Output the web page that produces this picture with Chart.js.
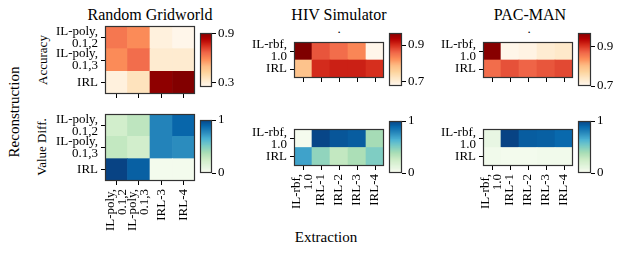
<!DOCTYPE html>
<html>
<head>
<meta charset="utf-8">
<script src="https://cdn.jsdelivr.net/npm/chart.js@4.4.1/dist/chart.umd.min.js"></script>
<style>
body { margin: 0; background: #fff; }
#fig { position: relative; width: 623px; height: 254px; overflow: hidden; font-family: "Liberation Serif", serif; color: #000; }
#fig canvas { position: absolute; left: 0; top: 0; }
.t { position: absolute; white-space: nowrap; transform: translate(-50%, -50%); }
.r { transform: translate(-50%, -50%) rotate(-90deg); }
</style>
</head>
<body>
<div id="fig">
    <div class="t" style="left:150px;top:15px;font-size:16px">Random Gridworld</div>
    <div class="t" style="left:339px;top:15px;font-size:16px">HIV Simulator</div>
    <div class="t" style="left:530px;top:15px;font-size:16px">PAC-MAN</div>
    <div class="t" style="left:339px;top:29px;font-size:13px">.</div>
    <div class="t" style="left:529px;top:29px;font-size:13px">.</div>
    <div class="t r" style="left:43px;top:60px;font-size:13px">Accuracy</div>
    <div class="t r" style="left:42px;top:147px;font-size:13px">Value Diff.</div>
    <div class="t r" style="left:14px;top:112px;font-size:15px">Reconstruction</div>
    <div class="t" style="left:326px;top:237px;font-size:15px">Extraction</div>
</div>
<script>
const rgRows = [["IL-poly,", "0.1,2"], ["IL-poly,", "0.1,3"], "IRL"]
const rgCols = [["IL-poly,", "0.1,2"], ["IL-poly,", "0.1,3"], "IRL-3", "IRL-4"]
const envRows = [["IL-rbf,", "1.0"], "IRL"]
const envCols = [["IL-rbf,", "1.0"], "IRL-1", "IRL-2", "IRL-3", "IRL-4"]

const rgAccuracy = [[0.62, 0.58, 0.28, 0.25], [0.58, 0.64, 0.31, 0.31], [0.28, 0.35, 0.88, 0.90]]
const rgValueDiff = [[0.21, 0.30, 0.78, 0.88], [0.28, 0.21, 0.78, 0.75], [0.99, 0.90, 0.02, 0.02]]
const hivAccuracy = [[0.965, 0.868, 0.85, 0.828, 0.68], [0.774, 0.897, 0.905, 0.905, 0.894]]
const hivValueDiff = [[0.01, 0.98, 0.93, 0.91, 0.38], [0.68, 0.44, 0.28, 0.36, 0.49]]
const pacAccuracy = [[0.963, 0.703, 0.708, 0.724, 0.732], [0.861, 0.88, 0.868, 0.877, 0.885]]
const pacValueDiff = [[0.08, 0.99, 0.91, 0.90, 0.87], [0.03, 0.02, 0.02, 0.03, 0.03]]

const rgAccRange = [0.245, 0.905]
const hivAccRange = [0.678, 0.965]
const pacAccRange = [0.7, 0.968]
const diffRange = [0, 1]
const rgAccTicks = [0.3, 0.9]
const envAccTicks = [0.7, 0.9]
const diffTicks = [0, 1]

// colormap stops (OrRd, GnBu)
const orrd = ["#fff7ec", "#fee8c8", "#fdd49e", "#fdbb84", "#fc8d59", "#ef6548", "#d7301f", "#b30000", "#7f0000"]
const gnbu = ["#f7fcf0", "#e0f3db", "#ccebc5", "#a8ddb5", "#7bccc4", "#4eb3d3", "#2b8cbe", "#0868ac", "#084081"]

function make_cmap(stops) {
    const rgb = stops.map(h => [1, 3, 5].map(i => parseInt(h.substr(i, 2), 16)))
    return t => {
        t = Math.max(0, Math.min(1, t)) * (rgb.length - 1)
        const i = Math.min(Math.floor(t), rgb.length - 2)
        const f = t - i
        const c = rgb[i].map((v, k) => Math.round(v + (rgb[i + 1][k] - v) * f))
        return `rgb(${c[0]},${c[1]},${c[2]})`
    }
}
const reds = make_cmap(orrd)
const blues = make_cmap(gnbu)

const tickFont = { family: "Liberation Serif", size: 13, lineHeight: 0.92 }

const frame = {
    id: 'frame',
    afterDraw(chart) {
        const a = chart.chartArea, ctx = chart.ctx
        ctx.save()
        ctx.strokeStyle = '#333'
        ctx.lineWidth = 1.2
        ctx.strokeRect(Math.round(a.left) + 0.5, Math.round(a.top) + 0.5,
            Math.round(a.right - a.left) - 1, Math.round(a.bottom - a.top) - 1)
        ctx.restore()
    }
}

function new_canvas() {
    const c = document.createElement('canvas')
    c.width = 623
    c.height = 254
    document.getElementById('fig').appendChild(c)
    return c
}

// rotated labels: two-line ones are centred with labelOffset,
// single ones get an empty first line with half line height
function col_label(cols, i) {
    return Array.isArray(cols[i]) ? cols[i] : ['', cols[i]]
}

function heatmap(box, rows, cols, values, range, cmap, showLabels) {
    const [L, T, R, B] = box
    const n = rows.length
    const datasets = values.slice().reverse().map(row => ({
        data: row.map(() => 1),
        backgroundColor: row.map(v => cmap((v - range[0]) / (range[1] - range[0]))),
        borderWidth: 0,
        barPercentage: 1,
        categoryPercentage: 1
    }))
    new Chart(new_canvas(), {
        type: 'bar',
        data: { labels: cols, datasets: datasets },
        plugins: [frame],
        options: {
            responsive: false,
            animation: false,
            layout: { padding: { left: L - 70, top: T, right: 623 - R, bottom: 254 - B - 70 } },
            plugins: { legend: { display: false }, tooltip: { enabled: false } },
            scales: {
                x: {
                    stacked: true,
                    grid: { offset: false, drawOnChartArea: false, tickLength: 4, color: '#000' },
                    border: { display: false },
                    ticks: {
                        autoSkip: false, minRotation: 90, maxRotation: 90, padding: 4, labelOffset: -6,
                        color: '#000',
                        font: ctx => ({
                            family: "Liberation Serif", size: 13,
                            lineHeight: Array.isArray(cols[ctx.index]) ? 12 / 13 : 6 / 13
                        }),
                        callback: function (v, i) { return showLabels ? col_label(cols, i) : '' }
                    },
                    afterFit: s => { s.height = 70; s.paddingLeft = 0; s.paddingRight = 0 }
                },
                y: {
                    stacked: true, min: 0, max: n,
                    grid: { drawOnChartArea: false, tickLength: 4, color: '#000' },
                    border: { display: false },
                    afterBuildTicks: s => { s.ticks = rows.map((r, i) => ({ value: i + 0.5 })) },
                    ticks: {
                        padding: 3, color: '#000', font: tickFont,
                        callback: function (v, i) { return rows[n - 1 - i] }
                    },
                    afterFit: s => { s.width = 70; s.paddingTop = 0; s.paddingBottom = 0 }
                }
            }
        }
    })
}

function colorbar(box, range, ticks, cmap) {
    const [L, T, R, B] = box
    const steps = 64
    const step = (range[1] - range[0]) / steps
    const datasets = []
    for (let i = 0; i < steps; i++) {
        const lo = range[0] + i * step
        datasets.push({
            data: [[lo, Math.min(lo + step * 1.5, range[1])]],
            backgroundColor: cmap((i + 0.5) / steps),
            borderWidth: 0,
            barPercentage: 1,
            categoryPercentage: 1,
            grouped: false
        })
    }
    new Chart(new_canvas(), {
        type: 'bar',
        data: { labels: [''], datasets: datasets },
        plugins: [frame],
        options: {
            responsive: false,
            animation: false,
            layout: { padding: { left: L, top: T, right: 623 - R - 30, bottom: 254 - B } },
            plugins: { legend: { display: false }, tooltip: { enabled: false } },
            scales: {
                x: { display: false },
                y: {
                    position: 'right', min: range[0], max: range[1],
                    grid: { drawOnChartArea: false, tickLength: 4, color: '#000' },
                    border: { display: false },
                    afterBuildTicks: s => { s.ticks = ticks.map(v => ({ value: v })) },
                    ticks: { padding: 2, color: '#000', font: tickFont, callback: v => String(v) },
                    afterFit: s => { s.width = 30; s.paddingTop = 0; s.paddingBottom = 0 }
                }
            }
        }
    })
}

heatmap([105, 26, 195, 94], rgRows, rgCols, rgAccuracy, rgAccRange, reds, false)
heatmap([105, 114, 195, 181], rgRows, rgCols, rgValueDiff, diffRange, blues, true)
heatmap([294, 42, 384, 78], envRows, envCols, hivAccuracy, hivAccRange, reds, false)
heatmap([294, 129, 384, 166], envRows, envCols, hivValueDiff, diffRange, blues, true)
heatmap([483, 42, 573, 78], envRows, envCols, pacAccuracy, pacAccRange, reds, false)
heatmap([483, 129, 573, 166], envRows, envCols, pacValueDiff, diffRange, blues, true)

colorbar([200, 33, 212, 87], rgAccRange, rgAccTicks, reds)
colorbar([200, 120, 212, 173], diffRange, diffTicks, blues)
colorbar([389, 33, 402, 86], hivAccRange, envAccTicks, reds)
colorbar([389, 121, 402, 173], diffRange, diffTicks, blues)
colorbar([578, 33, 591, 86], pacAccRange, envAccTicks, reds)
colorbar([578, 121, 591, 173], diffRange, diffTicks, blues)
</script>
</body>
</html>
